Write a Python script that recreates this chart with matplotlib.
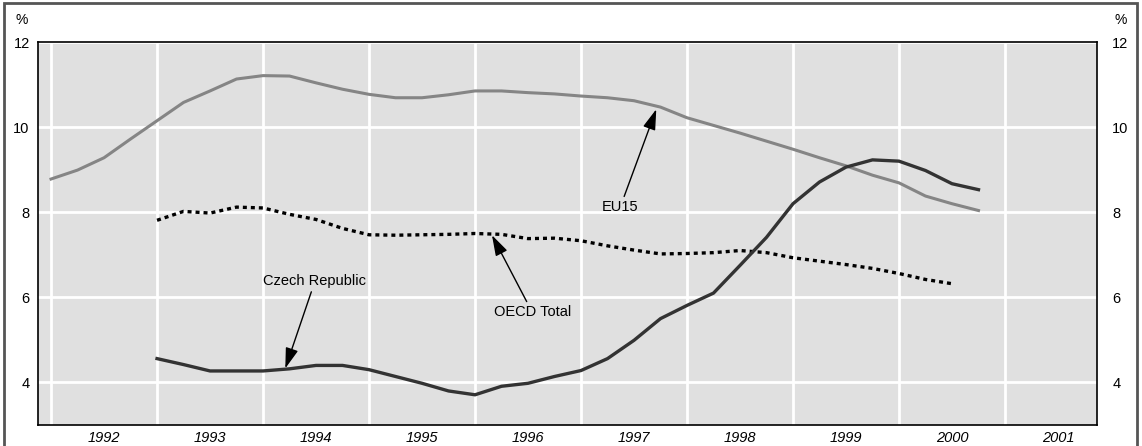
import numpy as np
import matplotlib.pyplot as plt
from matplotlib.patches import Rectangle

plt.rcParams['font.family'] = ['Liberation Sans', 'DejaVu Sans']

# quarterly unemployment rates, %
eu15_start = 1992.0
eu15 = [8.78, 8.99, 9.28, 9.72,
        10.15, 10.58, 10.85, 11.13,
        11.21, 11.20, 11.04, 10.89,
        10.77, 10.69, 10.69, 10.76,
        10.85, 10.85, 10.81, 10.78,
        10.73, 10.69, 10.62, 10.47,
        10.22, 10.04, 9.86, 9.67,
        9.48, 9.28, 9.09, 8.87,
        8.69, 8.38, 8.20, 8.04]

oecd_start = 1993.0
oecd = [7.81, 8.02, 7.98, 8.12,
        8.10, 7.95, 7.83, 7.62,
        7.47, 7.46, 7.47, 7.48,
        7.50, 7.48, 7.38, 7.39,
        7.33, 7.21, 7.11, 7.02,
        7.03, 7.05, 7.10, 7.05,
        6.93, 6.85, 6.77, 6.68,
        6.56, 6.42, 6.32]

czech_start = 1993.0
czech = [4.56, 4.42, 4.27, 4.27,
         4.27, 4.32, 4.40, 4.40,
         4.30, 4.14, 3.98, 3.80,
         3.71, 3.91, 3.98, 4.14,
         4.28, 4.56, 4.99, 5.50,
         5.81, 6.10, 6.75, 7.41,
         8.20, 8.71, 9.06, 9.23,
         9.20, 8.98, 8.67, 8.53]

years = list(range(1992, 2002))
yticks = [4, 6, 8, 10, 12]


def qx(start, vals):
    return start + 0.25 * np.arange(len(vals))


fig = plt.figure(figsize=(11.42, 4.46), dpi=100)
ax = fig.add_axes([38 / 1142, 1 - 425 / 446, (1097 - 38) / 1142, (425 - 42) / 446])
ax.set_facecolor('#e0e0e0')

ax.plot(qx(eu15_start, eu15), eu15, color='#858585', lw=2.2, zorder=3)
ax.plot(qx(oecd_start, oecd), oecd, color='black', lw=2.4, ls=(0, (1.2, 1.2)), zorder=3)
ax.plot(qx(czech_start, czech), czech, color='#333333', lw=2.4, zorder=4)

ax.set_xlim(1991.877, 2001.868)
ax.set_ylim(3, 12)
ax.set_yticks(yticks)
ax.set_xticks([y + 0.5 for y in years])
ax.set_xticklabels([str(y) for y in years], style='italic', fontsize=10.5)
ax.set_xticks(years, minor=True)
ax.tick_params(axis='x', which='both', length=0, pad=4)
ax.tick_params(axis='y', length=0, pad=6, labelsize=10.5)
ax.grid(axis='y', color='white', lw=2)
ax.grid(axis='x', which='minor', color='white', lw=2)
ax.set_axisbelow(True)
for s in ax.spines.values():
    s.set_linewidth(1.2)
    s.set_color('black')

ax2 = ax.twinx()
ax2.set_ylim(3, 12)
ax2.set_yticks(yticks)
ax2.tick_params(axis='y', length=0, pad=11, labelsize=10.5)
for s in ax2.spines.values():
    s.set_visible(False)

fig.text(22 / 1142, 1 - 20 / 446, '%', ha='center', va='center', fontsize=10)
fig.text(1121 / 1142, 1 - 20 / 446, '%', ha='center', va='center', fontsize=10)

arrow = dict(arrowstyle='-|>,head_length=0.9,head_width=0.28', color='black', lw=1,
             mutation_scale=14, shrinkA=0, shrinkB=0)
box = dict(boxstyle='square,pad=0.25', fc='none', ec='none')
ax.annotate('EU15', xy=(1997.71, 10.42), xytext=(1997.37, 8.12), fontsize=10.5,
            ha='center', va='center', arrowprops=arrow, bbox=box)
ax.annotate('OECD Total', xy=(1996.16, 7.46), xytext=(1996.54, 5.65), fontsize=10.5,
            ha='center', va='center', arrowprops=arrow, bbox=box)
ax.annotate('Czech Republic', xy=(1994.21, 4.33), xytext=(1994.49, 6.38), fontsize=10.5,
            ha='center', va='center', arrowprops=arrow, bbox=box)

fig.patches.append(Rectangle((4 / 1142, -0.05), (1137 - 4) / 1142, 1 - 3 / 446 + 0.05,
                             transform=fig.transFigure, fill=False, ec='#555555', lw=2))

fig.savefig('out.png', dpi=100)
